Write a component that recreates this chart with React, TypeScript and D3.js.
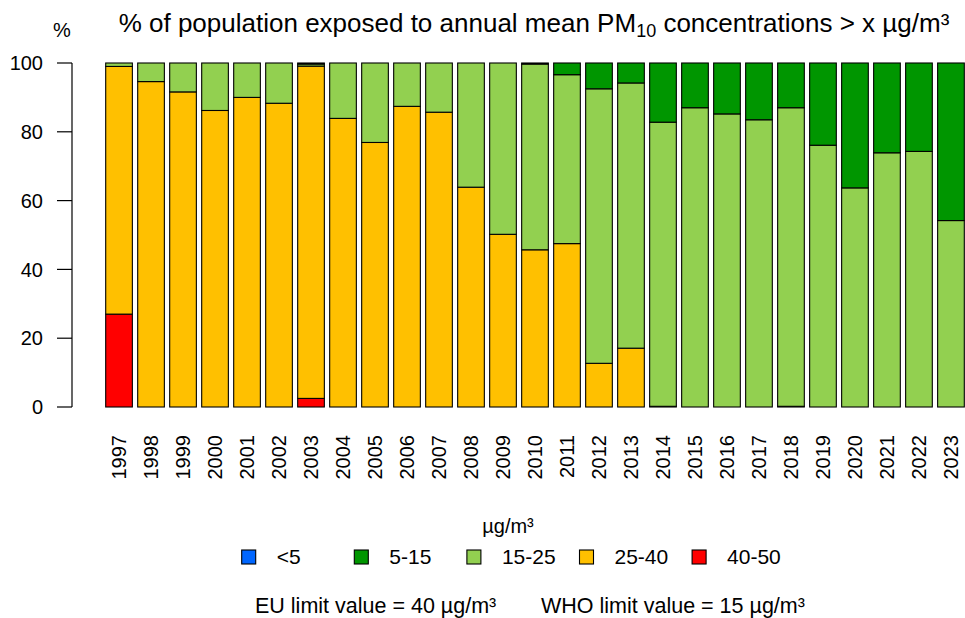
import React from "react";
import * as d3 from "d3";

const years = ["1997","1998","1999","2000","2001","2002","2003","2004","2005","2006","2007","2008","2009","2010","2011","2012","2013","2014","2015","2016","2017","2018","2019","2020","2021","2022","2023"];

// stacked from bottom: 40-50, 25-40, 15-25, 5-15, <5
const s40_50 = [27,0,0,0,0,0,2.5,0,0,0,0,0,0,0,0,0,0,0,0,0,0,0,0,0,0,0,0];
const s25_40 = [72,94.6,91.6,86.2,90.0,88.3,96.6,83.9,76.9,87.4,85.7,63.9,50.2,45.7,47.5,12.7,17.1,0.2,0,0,0,0.2,0,0,0,0,0];
const s15_25 = [1.0,5.4,8.4,13.8,10.0,11.7,0.6,16.1,23.1,12.6,14.3,36.1,49.8,54.0,49.1,79.8,77.1,82.6,87.0,85.2,83.5,86.8,76.1,63.7,73.9,74.3,54.2];
const s5_15 = [0,0,0,0,0,0,0.3,0,0,0,0,0,0,0.3,3.4,7.5,5.8,17.2,13.0,14.8,16.5,13.0,23.9,36.3,26.1,25.7,45.8];
const sLt5 = [0,0,0,0,0,0,0,0,0,0,0,0,0,0,0,0,0,0,0,0,0,0,0,0,0,0,0];

const stackKeys = ["40-50","25-40","15-25","5-15","<5"];
const legendKeys = ["<5","5-15","15-25","25-40","40-50"];
const colors: Record<string,string> = {
  "<5": "#0066FF",
  "5-15": "#009600",
  "15-25": "#92D050",
  "25-40": "#FFC000",
  "40-50": "#FF0000",
};
const yTicks = [0,20,40,60,80,100];

const W = 965, H = 618;
const FONT = "Liberation Sans, Arial, sans-serif";

export default function App() {
  const table = years.map((yr, i) => ({
    year: yr,
    "40-50": s40_50[i],
    "25-40": s25_40[i],
    "15-25": s15_25[i],
    "5-15": s5_15[i],
    "<5": sLt5[i],
  }));
  const series = d3.stack<any>().keys(stackKeys)(table);

  // R barplot user coords: bar i spans [0.2+1.2i, 1.2+1.2i]
  const x = d3.scaleLinear().domain([0.2, 32.4]).range([105.7, 964.3]);
  const y = d3.scaleLinear().domain([0, 100]).range([407, 63]);
  const barL = (i: number) => x(0.2 + 1.2 * i);
  const barW = x(1.2) - x(0.2);

  const legendX0 = 248.7, legendStep = 112.6, legendY = 557;

  return (
    <svg width={W} height={H} style={{ position: "absolute", left: 0, top: 0, background: "#fff" }} fontFamily={FONT}>
      <rect x={0} y={0} width={W} height={H} fill="#fff" />
      {/* title */}
      <text x={534} y={31.5} fontSize={26} textAnchor="middle" fill="#000">
        % of population exposed to annual mean PM<tspan fontSize={18} dy={5}>10</tspan><tspan dy={-5}> concentrations &gt; x µg/m³</tspan>
      </text>
      <text x={62} y={36.5} fontSize={20} textAnchor="middle" fill="#000">%</text>

      {/* bars */}
      {series.map((s) => (
        <g key={s.key} fill={colors[s.key]} stroke="#000" strokeWidth={1.1}>
          {s.map((d, i) => {
            const h = y(d[0]) - y(d[1]);
            if (h <= 0) return null;
            return <rect key={i} x={barL(i)} y={y(d[1])} width={barW} height={h} />;
          })}
        </g>
      ))}

      {/* y axis */}
      <g stroke="#000" strokeWidth={1.2}>
        <line x1={72} x2={72} y1={y(0)} y2={y(100)} />
        {yTicks.map((t) => (
          <line key={t} x1={57} x2={72} y1={y(t)} y2={y(t)} />
        ))}
      </g>
      {yTicks.map((t) => (
        <text key={t} x={43} y={y(t)} dy="0.36em" fontSize={20} textAnchor="end" fill="#000">{t}</text>
      ))}

      {/* x labels */}
      {years.map((yr, i) => {
        const cx = barL(i) + barW / 2;
        return (
          <text key={yr} transform={`translate(${cx},435) rotate(-90)`} dy="0.36em" fontSize={20} textAnchor="end" fill="#000">{yr}</text>
        );
      })}

      {/* legend */}
      <text x={508} y={533} fontSize={20} textAnchor="middle" fill="#000">µg/m³</text>
      {legendKeys.map((k, i) => {
        const cx = legendX0 + legendStep * i;
        return (
          <g key={k}>
            <rect x={cx - 7} y={legendY - 7} width={14} height={14} fill={colors[k]} stroke="#000" strokeWidth={1.1} />
            <text x={cx + 28} y={564} fontSize={21} fill="#000">{k}</text>
          </g>
        );
      })}

      <text x={255} y={613} fontSize={21.5} fill="#000">EU limit value = 40 µg/m³</text>
      <text x={541} y={613} fontSize={21.5} fill="#000">WHO limit value = 15 µg/m³</text>
    </svg>
  );
}
